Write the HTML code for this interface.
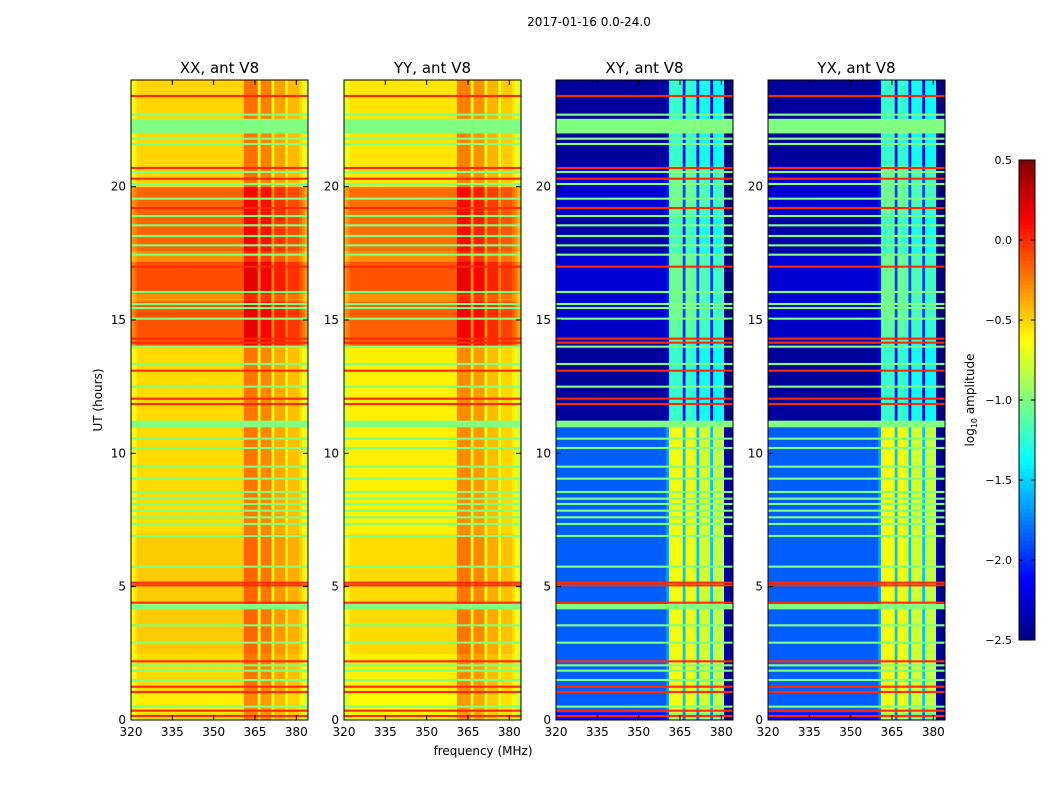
<!DOCTYPE html>
<html><head><meta charset="utf-8">
<style>
body{margin:0;background:#fff;width:1050px;height:800px;overflow:hidden;font-family:"Liberation Sans","DejaVu Sans",sans-serif}
svg text{font-family:"DejaVu Sans","Liberation Sans",sans-serif}
</style></head>
<body>
<svg id="fig" width="1050" height="800" xmlns="http://www.w3.org/2000/svg">
<text x="589" y="26" font-size="12" text-anchor="middle">2017-01-16 0.0-24.0</text>
<text transform="translate(102,400) rotate(-90)" font-size="12" text-anchor="middle">UT (hours)</text>
<text x="483" y="755" font-size="12" text-anchor="middle">frequency (MHz)</text>
<text transform="translate(974,400) rotate(-90)" font-size="12" text-anchor="middle">log<tspan font-size="8" dy="3">10</tspan><tspan dy="-3"> amplitude</tspan></text>
</svg>
<script>
// ---- data ----
const panelTitles = ["XX, ant V8","YY, ant V8","XY, ant V8","YX, ant V8"];
const xTicks = [320,335,350,365,380];
const yTicks = [0,5,10,15,20];
const cbTicks = [0.5,0.0,-0.5,-1.0,-1.5,-2.0,-2.5];
// time bands [startHour, endHour, baseLog10]
const bandsXX = [[0,0.3,-0.55],[0.3,1,-0.58],[1,2.5,-0.52],[2.5,7,-0.47],[7,14,-0.52],[14,15.7,-0.12],[15.7,16,-0.3],[16,17.2,-0.1],[17.2,17.6,-0.3],[17.6,20,-0.17],[20,24,-0.5]];
const bandsYY = [[0,1,-0.62],[1,2.5,-0.58],[2.5,7,-0.52],[7,14,-0.58],[14,15.7,-0.15],[15.7,16,-0.3],[16,17.2,-0.12],[17.2,17.6,-0.3],[17.6,20,-0.2],[20,24,-0.55]];
const bandsXY = [[0,0.3,-2.1],[0.3,11,-1.85],[11,14.2,-2.42],[14.2,15,-2.3],[15,17.5,-2.25],[17.5,19,-2.38],[19,20.8,-2.25],[20.8,24,-2.42]];
const bandsYX = [[0,0.3,-2.1],[0.3,11,-1.85],[11,14.2,-2.42],[14.2,15,-2.3],[15,17.5,-2.25],[17.5,19,-2.38],[19,20.8,-2.25],[20.8,24,-2.42]];
// frequency profile offsets, 1 MHz bins from 320 to 383
const profPar = [-0.15,-0.1,0,0,0,0,0,0,0,0,0,0,0,0,0,0,0,0,0,0,0,0,0,0,0,0,0,0,0,0,0,0,0,0,0,0,0,0,0,0,0,0.3,0.3,0.3,0.3,0.3,-0.15,0.25,0.25,0.25,0.25,-0.15,0.15,0.15,0.15,0.15,-0.1,0.08,0.08,0.08,0.08,0,-0.1,-0.2];
const profCross = [0,0,0,0,0,0,0,0,0,0,0,0,0,0,0,0,0,0,0,0,0,0,0,0,0,0,0,0,0,0,0,0,0,0,0,0,0,0,0,0,0.2,1.2,1.2,1.2,1.2,1.2,0.3,1.2,1.2,1.15,1.15,0.3,1.1,1.1,1.1,1.1,0.3,1.05,1.05,1.05,1.05,-0.5,-0.6,-0.6];
// flagged rows [hour, log10 value, thickness hours]
const flagHours = [0.15,0.35,1.05,1.25,2.2,4.4,5.05,5.15,11.85,12.05,13.1,14.15,14.3,17.0,19.2,20.3,20.7,23.4,
 0.5,1.5,1.85,2.05,2.9,3.55,4.25,5.75,6.9,7.35,7.6,7.85,8.1,8.3,8.55,9.05,9.5,10.2,10.55,11.1,12.5,13.35,14.0,15.05,15.45,15.6,16.05,17.45,17.8,18.15,18.55,18.9,19.55,20.1,20.55,21.6,21.8,22.27,22.7];
const flagVals = [0,0,0,0,0,0,0,0,0,0,0,0,0,0,0,0,0,0,
 -1,-1,-1,-1,-1,-1,-1,-1,-1,-1,-1,-1,-1,-1,-1,-1,-1,-1,-1,-1,-1,-1,-1,-1,-1,-1,-1,-1,-1,-1,-1,-1,-1,-1,-1,-1,-1,-1,-1];
const flagWidth = [0.08,0.08,0.08,0.08,0.08,0.08,0.08,0.08,0.08,0.08,0.08,0.08,0.08,0.08,0.08,0.08,0.08,0.08,
 0.08,0.08,0.08,0.08,0.08,0.08,0.2,0.08,0.08,0.08,0.08,0.08,0.08,0.08,0.08,0.08,0.08,0.08,0.08,0.25,0.08,0.08,0.08,0.08,0.08,0.08,0.08,0.08,0.08,0.08,0.08,0.08,0.08,0.08,0.08,0.08,0.08,0.55,0.08];

// ---- rendering ----
const NS="http://www.w3.org/2000/svg";
const svg=document.getElementById('fig');
const panelX=[131,344,556,768], PW=177, PT=80, PB=720;
const F0=320, F1=384.25, VMIN=-2.5, VMAX=0.5;
function jet(v){let t=(v-VMIN)/(VMAX-VMIN);t=Math.max(0,Math.min(1,t));
 const c=x=>Math.round(255*Math.max(0,Math.min(1,1.5-Math.abs(4*t-x))));
 return `rgb(${c(3)},${c(2)},${c(1)})`;}
function mk(tag,attrs,parent){const e=document.createElementNS(NS,tag);for(const k in attrs)e.setAttribute(k,attrs[k]);(parent||svg).appendChild(e);return e;}
const yS=h=>PB-h*(PB-PT)/24;
const allBands=[bandsXX,bandsYY,bandsXY,bandsYX];
const allProf=[profPar,profPar,profCross,profCross];
for(let p=0;p<4;p++){
 const x0=panelX[p]; const xS=f=>x0+(f-F0)*PW/(F1-F0);
 const g=mk('g',{});
 
 
 const hm=mk('g',{},g);
 
 
 allBands[p].forEach(b=>{
  allProf[p].forEach((off,i)=>{
   const xa=xS(F0+i), xb=Math.min(xS(F0+i+1),x0+PW);
   const r=mk('rect',{x:xa,y:yS(b[1]),width:xb-xa+0.4,height:yS(b[0])-yS(b[1])+0.4,fill:jet(b[2]+off)},hm);
   
   
  });
 });
 flagHours.forEach((h,i)=>{
  const r=mk('rect',{x:x0,y:yS(h+flagWidth[i]/2),width:PW,height:Math.max(1.6,flagWidth[i]*(PB-PT)/24),fill:jet(flagVals[i])},g);
  
  
 });
 const fr=mk('rect',{x:x0,y:PT,width:PW,height:PB-PT,fill:'none',stroke:'#000','stroke-width':1},g);
 
 
 const t=mk('text',{x:x0+PW/2,y:73,'font-size':15,'text-anchor':'middle'},g);t.textContent=panelTitles[p];
 
 
 xTicks.forEach(f=>{const x=xS(f);
  mk('line',{x1:x,x2:x,y1:PB,y2:PB-5,stroke:'#000'},g);mk('line',{x1:x,x2:x,y1:PT,y2:PT+5,stroke:'#000'},g);
  const tt=mk('text',{x:x,y:PB+16,'font-size':12,'text-anchor':'middle'},g);tt.textContent=f;
  
  
 });
 yTicks.forEach(h=>{const y=yS(h);
  mk('line',{x1:x0,x2:x0+5,y1:y,y2:y,stroke:'#000'},g);mk('line',{x1:x0+PW,x2:x0+PW-5,y1:y,y2:y,stroke:'#000'},g);
  const tt=mk('text',{x:x0-5,y:y+4,'font-size':12,'text-anchor':'end'},g);tt.textContent=h;
  
  
 });
}
// colorbar
const CX=1019,CW=16,CT=160,CB=640;
const cb=mk('g',{});


for(let i=0;i<120;i++){const v=VMIN+(i+0.5)*(VMAX-VMIN)/120;
 mk('rect',{x:CX,y:CB-(i+1)*(CB-CT)/120,width:CW,height:(CB-CT)/120+0.5,fill:jet(v)},cb);}
mk('rect',{x:CX,y:CT,width:CW,height:CB-CT,fill:'none',stroke:'#000'},cb);
cbTicks.forEach(v=>{const y=CB-(v-VMIN)/(VMAX-VMIN)*(CB-CT);
 mk('line',{x1:CX,x2:CX+4,y1:y,y2:y,stroke:'#000'},cb);mk('line',{x1:CX+CW,x2:CX+CW-4,y1:y,y2:y,stroke:'#000'},cb);
 const tt=mk('text',{x:1012,y:y+4,'font-size':11,'text-anchor':'end'},cb);tt.textContent=(v<0?'\u2212':'')+Math.abs(v).toFixed(1);
 
 
});
</script>
</body></html>
